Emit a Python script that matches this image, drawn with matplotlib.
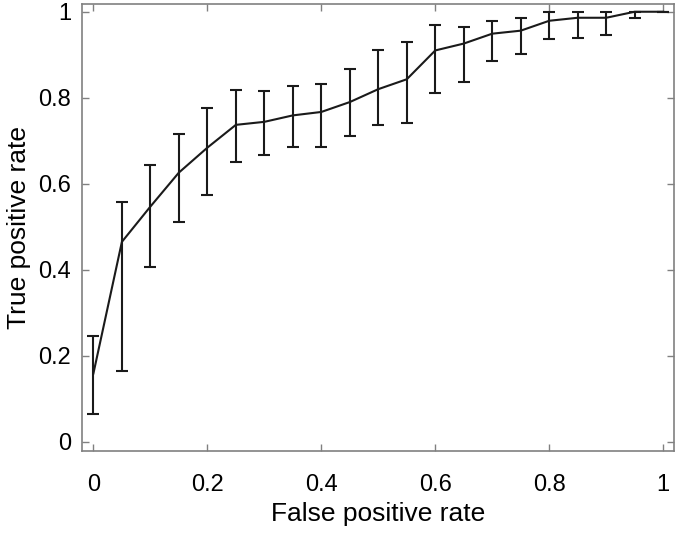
import numpy as np
import matplotlib
matplotlib.use('Agg')
import matplotlib.pyplot as plt

plt.rcParams['font.family'] = ['Liberation Sans', 'DejaVu Sans']

FPR = [0.0, 0.05, 0.1, 0.15, 0.2, 0.25, 0.3, 0.35, 0.4, 0.45, 0.5,
       0.55, 0.6, 0.65, 0.7, 0.75, 0.8, 0.85, 0.9, 0.95, 1.0]
TPR = [0.159, 0.465, 0.547, 0.626, 0.684, 0.737, 0.744, 0.759, 0.767, 0.790, 0.820,
       0.843, 0.910, 0.926, 0.949, 0.956, 0.979, 0.986, 0.986, 1.0, 1.0]
TPR_HI = [0.247, 0.558, 0.644, 0.716, 0.776, 0.819, 0.815, 0.827, 0.832, 0.867, 0.911,
          0.930, 0.970, 0.964, 0.978, 0.985, 1.0, 1.0, 1.0, 1.0, 1.0]
TPR_LO = [0.065, 0.164, 0.406, 0.510, 0.574, 0.650, 0.668, 0.685, 0.686, 0.712, 0.736,
          0.742, 0.812, 0.836, 0.885, 0.901, 0.936, 0.940, 0.946, 0.985, 1.0]
X_TICKS = [0, 0.2, 0.4, 0.6, 0.8, 1]
Y_TICKS = [0, 0.2, 0.4, 0.6, 0.8, 1]
TICK_LABELS = ['0', '0.2', '0.4', '0.6', '0.8', '1']


def main():
    fpr = np.array(FPR)
    tpr = np.array(TPR)
    err = np.vstack([tpr - np.array(TPR_LO), np.array(TPR_HI) - tpr])

    fig = plt.figure(figsize=(6.75, 5.33), dpi=100)
    ax = fig.add_axes([0.1215, 0.1533, 0.877, 0.840])
    ax.errorbar(fpr, tpr, yerr=err, color='#1a1a1a', lw=1.5, elinewidth=1.5,
                capsize=4.6, capthick=1.5)

    ax.set_xlim(-0.02, 1.019)
    ax.set_ylim(-0.022, 1.019)
    ax.set_xticks(X_TICKS)
    ax.set_xticklabels(TICK_LABELS)
    ax.set_yticks(Y_TICKS)
    ax.set_yticklabels(TICK_LABELS)
    ax.tick_params(direction='in', top=True, right=True, length=5, width=1,
                   color='#808080', labelsize=17, pad=8)
    ax.tick_params(axis='x', pad=16)
    for s in ax.spines.values():
        s.set_color('#808080')
        s.set_linewidth(1.2)

    ax.set_xlabel('False positive rate', fontsize=19, labelpad=5)
    ax.set_ylabel('True positive rate', fontsize=19, labelpad=5)

    fig.savefig('out.png', dpi=100)


if __name__ == '__main__':
    main()
